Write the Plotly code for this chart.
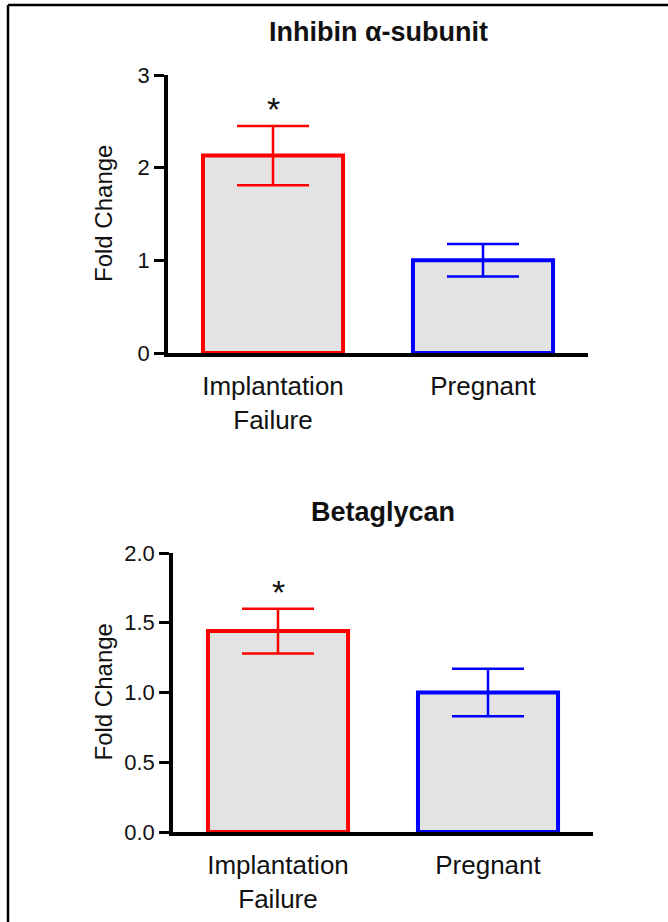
import plotly.graph_objects as go

categories = ["Implantation<br>Failure", "Pregnant"]
bar_colors = ["#ff0000", "#0000ff"]

inhibin_title = "Inhibin α-subunit"
inhibin_values = [2.13, 1.00]
inhibin_errors = [0.32, 0.175]
inhibin_ticks = [0, 1, 2, 3]
inhibin_ticklabels = ["0", "1", "2", "3"]

betaglycan_title = "Betaglycan"
betaglycan_values = [1.44, 1.00]
betaglycan_errors = [0.16, 0.17]
betaglycan_ticks = [0.0, 0.5, 1.0, 1.5, 2.0]
betaglycan_ticklabels = ["0.0", "0.5", "1.0", "1.5", "2.0"]

significant = [True, False]

W, H = 668, 922
FONT = "Arial, 'Liberation Sans', sans-serif"

fig = go.Figure()

panels = [
    dict(title=inhibin_title, values=inhibin_values, errors=inhibin_errors,
         ticks=inhibin_ticks, ticklabels=inhibin_ticklabels, yrange=[0, 3],
         xpx=(168, 588), ypx=(75, 353), xa="x", ya="y", title_y=32),
    dict(title=betaglycan_title, values=betaglycan_values, errors=betaglycan_errors,
         ticks=betaglycan_ticks, ticklabels=betaglycan_ticklabels, yrange=[0, 2],
         xpx=(173, 593), ypx=(553, 832), xa="x2", ya="y2", title_y=512),
]

annotations = []
for i, p in enumerate(panels):
    for j, cat in enumerate(categories):
        fig.add_trace(go.Bar(
            x=[cat], y=[p["values"][j]],
            xaxis=p["xa"], yaxis=p["ya"],
            width=0.667,
            marker=dict(color="#e3e3e3", line=dict(color=bar_colors[j], width=4)),
            error_y=dict(type="data", array=[p["errors"][j]], color=bar_colors[j],
                         thickness=2.5, width=36, visible=True),
            showlegend=False, hoverinfo="skip",
        ))
        if significant[j]:
            annotations.append(dict(
                x=cat, y=p["values"][j] + p["errors"][j], xref=p["xa"], yref=p["ya"],
                text="*", showarrow=False, yanchor="middle", yshift=17,
                font=dict(family=FONT, size=34, color="#111111"),
            ))
    x0, x1 = p["xpx"]
    y0, y1 = p["ypx"]
    dom_x = [x0 / W, x1 / W]
    dom_y = [(H - y1) / H, (H - y0) / H]
    suffix = "" if i == 0 else "2"
    fig.update_layout(**{
        "xaxis" + suffix: dict(
            domain=dom_x, range=[-0.5, 1.5], type="category",
            showline=True, linecolor="#000000", linewidth=3.5,
            ticks="", showgrid=False, zeroline=False,
            tickfont=dict(family=FONT, size=26, color="#111111"),
            ticklabelstandoff=7, automargin=False,
            anchor="y" + suffix, fixedrange=True,
        ),
        "yaxis" + suffix: dict(
            domain=dom_y, range=p["yrange"],
            showline=True, linecolor="#000000", linewidth=3.5,
            ticks="outside", ticklen=10, tickwidth=3, tickcolor="#000000",
            tickvals=p["ticks"], ticktext=p["ticklabels"],
            showgrid=False, zeroline=False, automargin=False,
            tickfont=dict(family=FONT, size=22, color="#111111"),
            anchor="x" + suffix, fixedrange=True,
        ),
    })
    annotations.append(dict(
        x=(x0 + x1) / 2 / W, y=(H - p["title_y"]) / H, xref="paper", yref="paper",
        text="<b>" + p["title"] + "</b>", showarrow=False,
        xanchor="center", yanchor="middle",
        font=dict(family=FONT, size=27, color="#111111"),
    ))
    annotations.append(dict(
        x=103 / W, y=(H - (y0 + y1) / 2) / H, xref="paper", yref="paper",
        text="Fold Change", textangle=-90, showarrow=False,
        xanchor="center", yanchor="middle",
        font=dict(family=FONT, size=24, color="#111111"),
    ))

fig.update_layout(
    width=W, height=H, autosize=False,
    margin=dict(l=0, r=0, t=0, b=0, pad=0),
    paper_bgcolor="#ffffff", plot_bgcolor="#ffffff",
    annotations=annotations,
    shapes=[
        dict(type="line", xref="paper", yref="paper",
             x0=8 / W, x1=8 / W, y0=0, y1=(H - 5) / H,
             line=dict(color="#000000", width=2.5)),
        dict(type="line", xref="paper", yref="paper",
             x0=8 / W, x1=1, y0=(H - 5) / H, y1=(H - 5) / H,
             line=dict(color="#000000", width=2.5)),
    ],
    bargap=0.333,
)

fig.write_html(
    "out.html",
    config={"responsive": False, "displayModeBar": False},
    post_script=(
        "document.documentElement.style.margin='0';"
        "document.body.style.margin='0';document.body.style.overflow='hidden';"
        "var d=document.getElementById('{plot_id}');"
        "d.style.position='fixed';d.style.top='0px';d.style.left='0px';"
    ),
)
